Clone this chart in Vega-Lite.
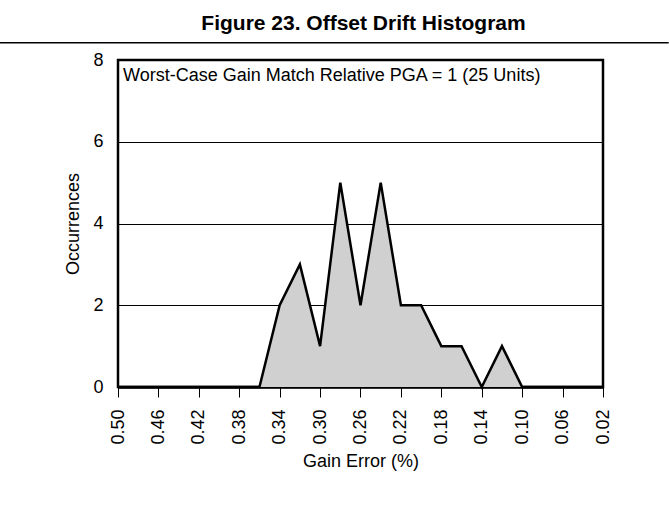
{
  "$schema": "https://vega.github.io/schema/vega-lite/v6.json",
  "width": 485,
  "height": 327,
  "autosize": {"type": "none"},
  "padding": {"left": 118, "top": 60, "right": 66, "bottom": 135},
  "background": "white",
  "title": {
    "text": "Figure 23. Offset Drift Histogram",
    "font": "Liberation Sans",
    "fontSize": 21,
    "fontWeight": "bold",
    "color": "black",
    "anchor": "middle",
    "dx": 3,
    "offset": 8
  },
  "config": {
    "font": "Liberation Sans",
    "view": {"stroke": "black", "strokeWidth": 2.5},
    "axis": {
      "labelFont": "Liberation Sans",
      "titleFont": "Liberation Sans",
      "labelFontSize": 18,
      "titleFontSize": 18,
      "titleFontWeight": "normal",
      "labelColor": "black",
      "titleColor": "black",
      "domainColor": "black",
      "tickColor": "black",
      "gridColor": "black",
      "gridOpacity": 1,
      "gridWidth": 1
    }
  },
  "data": {
    "values": [
      {"gain": 0.50, "count": 0},
      {"gain": 0.48, "count": 0},
      {"gain": 0.46, "count": 0},
      {"gain": 0.44, "count": 0},
      {"gain": 0.42, "count": 0},
      {"gain": 0.40, "count": 0},
      {"gain": 0.38, "count": 0},
      {"gain": 0.36, "count": 0},
      {"gain": 0.34, "count": 2},
      {"gain": 0.32, "count": 3},
      {"gain": 0.30, "count": 1},
      {"gain": 0.28, "count": 5},
      {"gain": 0.26, "count": 2},
      {"gain": 0.24, "count": 5},
      {"gain": 0.22, "count": 2},
      {"gain": 0.20, "count": 2},
      {"gain": 0.18, "count": 1},
      {"gain": 0.16, "count": 1},
      {"gain": 0.14, "count": 0},
      {"gain": 0.12, "count": 1},
      {"gain": 0.10, "count": 0},
      {"gain": 0.08, "count": 0},
      {"gain": 0.06, "count": 0},
      {"gain": 0.04, "count": 0},
      {"gain": 0.02, "count": 0}
    ]
  },
  "layer": [
    {
      "mark": {"type": "area", "color": "#d0d0d0", "opacity": 1, "line": {"color": "black", "strokeWidth": 2.5}},
      "encoding": {
        "x": {
          "field": "gain",
          "type": "quantitative",
          "scale": {"domain": [0.02, 0.5], "reverse": true, "nice": false, "zero": false},
          "axis": {
            "title": "Gain Error (%)",
            "values": [0.50, 0.46, 0.42, 0.38, 0.34, 0.30, 0.26, 0.22, 0.18, 0.14, 0.10, 0.06, 0.02],
            "format": ".2f",
            "labelAngle": 270,
            "labelAlign": "right",
            "labelBaseline": "middle",
            "tickSize": 10,
            "tickWidth": 1,
            "labelPadding": 12,
            "titlePadding": 8,
            "grid": false,
            "domainWidth": 2.5
          }
        },
        "y": {
          "field": "count",
          "type": "quantitative",
          "scale": {"domain": [0, 8], "nice": false},
          "axis": {
            "title": "Occurrences",
            "values": [0, 2, 4, 6, 8],
            "ticks": false,
            "labelPadding": 15,
            "titlePadding": 10,
            "grid": true,
            "domain": false
          }
        }
      }
    },
    {
      "data": {"values": [{}]},
      "mark": {"type": "text", "text": "Worst-Case Gain Match Relative PGA = 1 (25 Units)", "align": "left", "baseline": "alphabetic", "fontSize": 18, "font": "Liberation Sans", "color": "black"},
      "encoding": {
        "x": {"datum": 0.495},
        "y": {"datum": 7.49}
      }
    },
    {
      "data": {"values": [{}]},
      "mark": {"type": "rule", "color": "black", "strokeWidth": 1.5, "clip": false},
      "encoding": {
        "x": {"datum": 0.617},
        "x2": {"datum": -0.045},
        "y": {"datum": 8.42}
      }
    }
  ]
}
